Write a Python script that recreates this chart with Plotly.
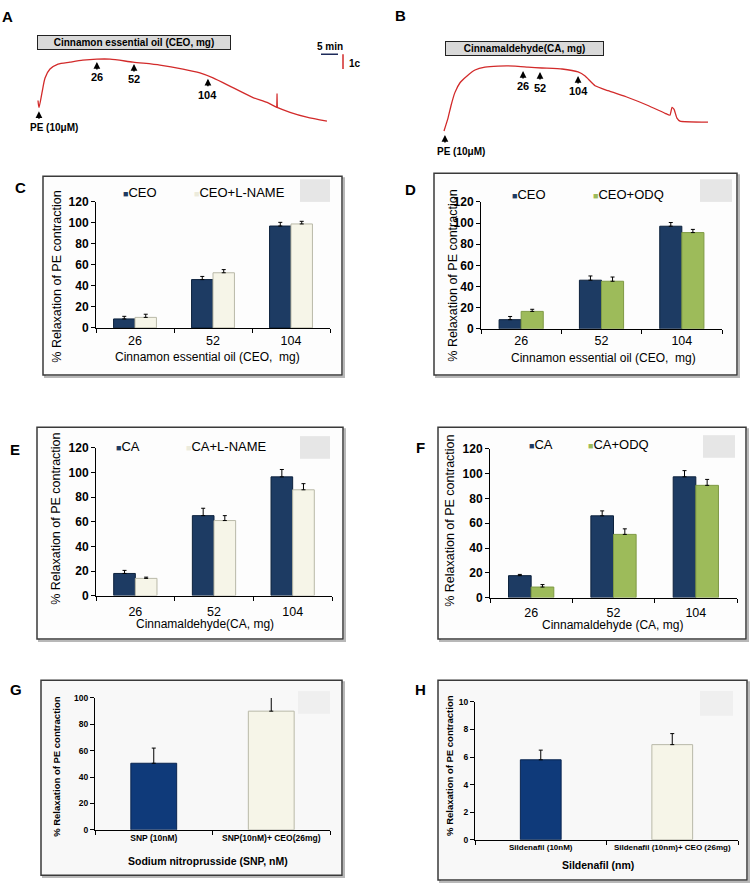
import plotly.graph_objects as go

W, H = 750, 891


def X(px):
    return px / W


def Y(py):
    return 1 - py / H


# ---------------- DATA ----------------
# Panel A: isometric tension trace (time in min, tension in g)
a_time = [0, 0.3, 1.25, 2.2, 3.75, 6.25, 10, 14, 18.4, 22.5, 29.7, 38.1, 45.3, 50.6,
          54.7, 60.9, 67.2, 71.6, 74.7, 78.75, 84, 90.3]
a_tension = [1.4, 0.93, 1.93, 2.93, 3.53, 3.87, 4.0, 4.13, 4.2, 4.2, 4.0, 3.8, 3.53, 3.27,
             2.93, 2.27, 1.6, 1.27, 0.93, 0.6, 0.27, 0.0]
a_spike_time = [74.6, 74.7, 74.8]
a_spike_tension = [0.93, 1.87, 0.9]
a_dose_labels = ["26", "52", "104"]
a_dose_time = [18.4, 30.0, 53.1]
a_dose_tension = [4.0, 3.87, 2.87]
a_pe_time = 0.3
a_pe_tension = 0.67

# Panel B: isometric tension trace
b_time = [0, 1.25, 2.2, 3.4, 5, 7.2, 9.7, 12.8, 16.9, 22.2, 26.25, 30.6, 36.9, 41.9, 44.1,
          47.2, 51.25, 57.5, 63.75, 69.1, 70.6, 71.25, 71.9, 72.8, 73.75, 82.5]
b_tension = [0, 0.87, 1.73, 2.6, 3.27, 3.73, 4.13, 4.33, 4.4, 4.4, 4.33, 4.27, 4.2, 4.0, 3.73,
             3.07, 2.73, 2.27, 1.73, 1.2, 1.07, 1.6, 1.47, 0.87, 0.67, 0.6]
b_dose_labels = ["26", "52", "104"]
b_dose_time = [24.7, 30.0, 41.9]
b_dose_tension = [4.07, 4.0, 3.73]
b_pe_time = 0.3
b_pe_tension = -0.27

doses = ["26", "52", "104"]

c_ceo = [8.5, 46, 97]
c_ceo_err = [2.5, 3, 3.5]
c_lname = [10, 52.5, 99]
c_lname_err = [3, 3, 2.5]

d_ceo = [8.7, 46, 97]
d_ceo_err = [3, 4, 3.5]
d_odq = [16.5, 45, 91]
d_odq_err = [2, 4, 3]

e_ca = [18, 65, 96.5]
e_ca_err = [2.5, 6, 6]
e_lname = [14, 61, 86]
e_lname_err = [1, 4, 5]

f_ca = [17.7, 66, 97.5]
f_ca_err = [1, 4, 5]
f_odq = [8.5, 51, 90.6]
f_odq_err = [2, 4.5, 4.8]

g_cats = ["SNP (10nM)", "SNP(10nM)+ CEO(26mg)"]
g_vals = [50.5, 90]
g_err = [11.5, 10.5]

h_cats = ["Sildenafil (10nM)", "Sildenafil (10nm)+ CEO (26mg)"]
h_vals = [5.8, 6.9]
h_err = [0.7, 0.8]

# ---------------- STYLE ----------------
NAVY = "#1d3b63"
NAVY2 = "#0f3a7a"
CREAM = "#f6f5e8"
GREEN = "#9dbb5a"
RED = "#d22a2a"
FONT = "Arial"

fig = go.Figure()
shapes = []
ann = []


def axkey(i, a):
    return a + ("" if i == 1 else str(i))


def pa(px, py, text, font, xanchor="center", **kw):
    d = dict(x=X(px), y=Y(py), xref="paper", yref="paper", text=text, showarrow=False,
             xanchor=xanchor, yanchor="middle", font=font)
    d.update(kw)
    ann.append(d)


# ---- Trace panels (A, B) ----
fig.add_trace(go.Scatter(x=a_time, y=a_tension, mode="lines", line=dict(color=RED, width=1.3, shape="spline", smoothing=0.7),
                         xaxis="x", yaxis="y", showlegend=False, hoverinfo="skip"))
fig.add_trace(go.Scatter(x=a_spike_time, y=a_spike_tension, mode="lines", line=dict(color=RED, width=1.2),
                         xaxis="x", yaxis="y", showlegend=False, hoverinfo="skip"))
fig.add_trace(go.Scatter(x=b_time, y=b_tension, mode="lines", line=dict(color=RED, width=1.3, shape="spline", smoothing=0.4),
                         xaxis="x2", yaxis="y2", showlegend=False, hoverinfo="skip"))

layout = dict(
    width=W, height=H, margin=dict(l=0, r=0, t=0, b=0),
    paper_bgcolor="white", plot_bgcolor="rgba(0,0,0,0)",
    barmode="group", bargap=0.45, bargroupgap=0.0,
    font=dict(family=FONT, color="black"),
    showlegend=False,
)

layout["xaxis"] = dict(domain=[X(20), X(360)], range=[-5.625, 100.625], visible=False, fixedrange=True)
layout["yaxis"] = dict(domain=[Y(140), Y(30)], range=[-1.6, 5.733], visible=False, fixedrange=True)
layout["xaxis2"] = dict(domain=[X(400), X(740)], range=[-13.75, 92.5], visible=False, fixedrange=True)
layout["yaxis2"] = dict(domain=[Y(160), Y(30)], range=[-2.267, 6.4], visible=False, fixedrange=True)

arrow_font = dict(family=FONT, size=11, color="black", weight="bold")


def add_arrows(xr, yr, labels, times, tens, label_off):
    for lab, t, g, off in zip(labels, times, tens, label_off):
        ann.append(dict(x=t, y=g, xref=xr, yref=yr, text="", showarrow=True, ax=0, ay=9,
                        arrowhead=2, arrowsize=0.9, arrowwidth=1.5, arrowcolor="black"))
        ann.append(dict(x=t, y=g, xref=xr, yref=yr, text=lab, showarrow=False, yshift=-off,
                        xanchor="center", yanchor="middle", font=arrow_font))


add_arrows("x", "y", a_dose_labels, a_dose_time, a_dose_tension, [15, 15, 16])
add_arrows("x2", "y2", b_dose_labels, b_dose_time, b_dose_tension, [15, 16, 15])
# PE arrows
ann.append(dict(x=a_pe_time, y=a_pe_tension, xref="x", yref="y", text="", showarrow=True, ax=0, ay=9,
                arrowhead=2, arrowsize=0.9, arrowwidth=1.5, arrowcolor="black"))
pa(28, 122, "PE (10\u03bcM)", dict(family=FONT, size=10, weight="bold"), xanchor="left")
ann.append(dict(x=b_pe_time, y=b_pe_tension, xref="x2", yref="y2", text="", showarrow=True, ax=0, ay=9,
                arrowhead=2, arrowsize=0.9, arrowwidth=1.5, arrowcolor="black"))
pa(435, 147, "PE (10\u03bcM)", dict(family=FONT, size=10, weight="bold"), xanchor="left")

# title boxes
pa(133.5, 36.5, "Cinnamon essential oil (CEO, mg)", dict(family=FONT, size=10, weight="bold"),
   width=190, height=11, bgcolor="#d9d9d9", bordercolor="#222", borderwidth=1, borderpad=1)
pa(524, 42, "Cinnamaldehyde(CA, mg)", dict(family=FONT, size=10, weight="bold"),
   width=155, height=11, bgcolor="#d9d9d9", bordercolor="#222", borderwidth=1, borderpad=1)
# scale bar
pa(330, 40, "5 min", dict(family=FONT, size=10, weight="bold"))
shapes.append(dict(type="line", xref="paper", yref="paper", x0=X(321), x1=X(338), y0=Y(48), y1=Y(48),
                   line=dict(color="#1c2a5a", width=1.5)))
shapes.append(dict(type="line", xref="paper", yref="paper", x0=X(343), x1=X(343), y0=Y(48), y1=Y(63),
                   line=dict(color=RED, width=1.5)))
pa(347, 57, "1c", dict(family=FONT, size=10, weight="bold"), xanchor="left")


# ---- Bar panels ----
def frame(x0, y0, x1, y1, fill):
    shapes.append(dict(type="rect", xref="paper", yref="paper", x0=X(x0 + 2), x1=X(x1 + 2), y0=Y(y1 + 2), y1=Y(y0 + 2),
                       line=dict(color="#b8b8b8", width=2), fillcolor="rgba(0,0,0,0)", layer="below"))
    shapes.append(dict(type="rect", xref="paper", yref="paper", x0=X(x0), x1=X(x1), y0=Y(y1), y1=Y(y0),
                       line=dict(color="#3a3a3a", width=1.5), fillcolor=fill, layer="below"))


def graybox(x0, y0, x1, y1, color="#e6e6e6"):
    shapes.append(dict(type="rect", xref="paper", yref="paper", x0=X(x0), x1=X(x1), y0=Y(y1), y1=Y(y0),
                       line=dict(width=0), fillcolor=color, layer="below"))


def set_axes(i, xd, yd, yr, dtick, ncat, tickfont_x, tickfont_y, standoff=0):
    layout[axkey(i, "xaxis")] = dict(domain=[X(xd[0]), X(xd[1])], type="category", range=[-0.5, ncat - 0.5],
                                     anchor=axkey(i, "y"), showline=True, linecolor="black", linewidth=1,
                                     ticks="outside", tickson="boundaries", ticklen=4, tickcolor="black",
                                     showgrid=False, zeroline=False, tickfont=tickfont_x, fixedrange=True,
                                     ticklabelstandoff=standoff)
    layout[axkey(i, "yaxis")] = dict(domain=[Y(yd[1]), Y(yd[0])], range=yr, dtick=dtick, anchor=axkey(i, "x"),
                                     showline=True, linecolor="black", linewidth=1, ticks="outside", ticklen=4,
                                     tickcolor="black", showgrid=False, zeroline=False, tickfont=tickfont_y,
                                     fixedrange=True)


def err(a):
    return dict(type="data", array=a, arrayminus=[0] * len(a), symmetric=False, color="black",
                thickness=1, width=2)


def bar(i, x, y, e, color, line_color, width=None):
    kw = {}
    if width is not None:
        kw["width"] = width
    fig.add_trace(go.Bar(x=x, y=y, error_y=err(e), marker=dict(color=color, line=dict(color=line_color, width=1)),
                         xaxis=axkey(i, "x"), yaxis=axkey(i, "y"), showlegend=False, hoverinfo="skip", **kw))


fx = dict(family=FONT, size=12.5, color="black")
fy = dict(family=FONT, size=12, color="black", weight="bold")

panels = [
    (3, (96, 330), (198, 326), c_ceo, c_ceo_err, NAVY, "#0d223d", c_lname, c_lname_err, CREAM, "#b9b9a8", 1),
    (4, (481, 722), (198, 327), d_ceo, d_ceo_err, NAVY, "#0d223d", d_odq, d_odq_err, GREEN, "#7f9a45", 0),
    (5, (96, 332), (448, 598), e_ca, e_ca_err, NAVY, "#0d223d", e_lname, e_lname_err, CREAM, "#b9b9a8", 4),
    (6, (490, 737), (449, 600), f_ca, f_ca_err, NAVY, "#0d223d", f_odq, f_odq_err, GREEN, "#7f9a45", 3),
]
for (i, xd, yd, s1, e1, c1, l1, s2, e2, c2, l2, so) in panels:
    bar(i, doses, s1, e1, c1, l1)
    bar(i, doses, s2, e2, c2, l2)
    set_axes(i, xd, yd, [0, 120], 20, 3, fx, fy, so)

gx = dict(family=FONT, size=8.5, color="black", weight="bold")
gy = dict(family=FONT, size=8.5, color="black", weight="bold")
bar(7, g_cats, g_vals, g_err, [NAVY2, CREAM], ["#0a2550", "#b9b9a8"], width=[0.39, 0.39])
set_axes(7, (95, 330), (702, 836), [0, 100], 20, 2, gx, gy)
bar(8, h_cats, h_vals, h_err, [NAVY2, CREAM], ["#0a2550", "#b9b9a8"], width=[0.31, 0.31])
set_axes(8, (475, 738), (706, 846), [0, 10], 2, 2, dict(gx, size=8), gy)

# frames
frame(43, 172, 342, 374, "#fdfdfd")
frame(434, 169, 737, 374, "#fdfdfd")
frame(37, 427, 343, 642, "#fdfdfd")
frame(438, 427, 746, 642, "#fdfdfd")
frame(41, 684, 342, 882, "#f8f8f8")
frame(438, 684, 747, 887, "#f8f8f8")
graybox(300, 175, 330, 198)
graybox(700, 175, 732, 198)
graybox(300, 436, 330, 459)
graybox(703, 435, 735, 458)
graybox(298, 695, 330, 718, "#efefef")
graybox(700, 695, 733, 720, "#efefef")


def legend_item(px, py, color, label):
    pa(px, py, f"<span style='color:{color};font-size:9px'>\u25a0</span>{label}",
       dict(family=FONT, size=13, color="black"), xanchor="left")


legend_item(121, 188, NAVY, "CEO")
legend_item(192, 188, "#ecebdc", "CEO+L-NAME")
legend_item(510, 190, NAVY, "CEO")
legend_item(591, 190, GREEN, "CEO+ODQ")
legend_item(114, 447, NAVY, "CA")
legend_item(184, 447, "#ecebdc", "CA+L-NAME")
legend_item(527, 444, NAVY, "CA")
legend_item(586, 444, GREEN, "CA+ODQ")

ytitle = "% Relaxation of PE contraction"
for (px, py, f) in [(57, 274, dict(family=FONT, size=12.5)), (453, 273, dict(family=FONT, size=12.5)),
                    (56, 520, dict(family=FONT, size=12.5)), (450, 522, dict(family=FONT, size=12.5)),
                    (57, 772, dict(family=FONT, size=9.5, weight="bold")),
                    (450, 771, dict(family=FONT, size=9.5, weight="bold"))]:
    pa(px, py, ytitle, dict(f, color="black"), textangle=-90)

for (px, py, t, f) in [(207, 356, "Cinnamon essential oil (CEO,  mg)", dict(family=FONT, size=12)),
                       (603, 357, "Cinnamon essential oil (CEO,  mg)", dict(family=FONT, size=12)),
                       (205, 627, "Cinnamaldehyde(CA, mg)", dict(family=FONT, size=12)),
                       (612, 628, "Cinnamaldehyde (CA, mg)", dict(family=FONT, size=12)),
                       (208, 868, "Sodium nitroprusside (SNP, nM)", dict(family=FONT, size=10.5, weight="bold")),
                       (598, 872, "Sildenafil (nm)", dict(family=FONT, size=10.5, weight="bold"))]:
    pa(px, py, t, dict(f, color="black"))

for (px, py, t) in [(7, 10, "A"), (400, 9, "B"), (20, 183, "C"), (410, 185, "D"),
                    (15, 450, "E"), (420, 448, "F"), (16, 693, "G"), (420, 693, "H")]:
    pa(px, py, t, dict(family=FONT, size=15, weight="bold", color="black"))

layout["shapes"] = shapes
layout["annotations"] = ann
fig.update_layout(**layout)

fig.write_html("out.html", post_script="document.body.style.margin='0px';",
               config={"displayModeBar": False})
